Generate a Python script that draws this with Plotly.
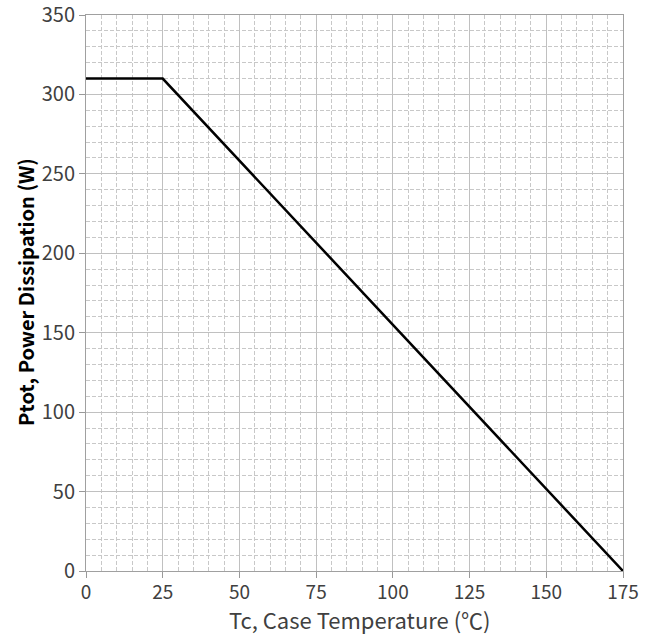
import plotly.graph_objects as go

# Data
temperature_c = [0, 25, 175]
power_w = [310, 310, 0]

x_ticks = [0, 25, 50, 75, 100, 125, 150, 175]
y_ticks = [0, 50, 100, 150, 200, 250, 300, 350]

FONT = "Noto Sans CJK SC"
L, R, T, B = 86, 28, 15, 66
W, H = 651, 637
PW, PH = W - L - R, H - T - B

fig = go.Figure()
fig.add_trace(go.Scatter(
    x=temperature_c, y=power_w, mode="lines",
    line=dict(color="black", width=2.5), showlegend=False, hoverinfo="skip",
))

fig.update_layout(
    width=W, height=H,
    margin=dict(l=L, r=R, t=T, b=B, autoexpand=False),
    paper_bgcolor="white", plot_bgcolor="white",
    font=dict(family=FONT, size=18, color="#404040"),
)

fig.update_xaxes(
    range=[0, 175], tickvals=x_ticks, ticktext=[str(v) for v in x_ticks],
    showline=True, linecolor="#a0a0a0", linewidth=1, mirror=True,
    ticks="outside", ticklen=6, tickcolor="#999999",
    showgrid=True, gridcolor="#c0c0c0", gridwidth=1,
    minor=dict(dtick=5, showgrid=True, gridcolor="#c8c8c8", griddash="4px,2px", gridwidth=1),
    tickfont=dict(family=FONT, size=19, color="#404040"),
    ticklabeloverflow="allow", ticklabelstandoff=-2,
    automargin=False, zeroline=False,
)
fig.update_yaxes(
    range=[0, 350], tickvals=y_ticks, ticktext=[str(v) for v in y_ticks],
    showline=True, linecolor="#a0a0a0", linewidth=1, mirror=True,
    ticks="outside", ticklen=6, tickcolor="#999999",
    showgrid=True, gridcolor="#c0c0c0", gridwidth=1,
    minor=dict(dtick=10, showgrid=True, gridcolor="#c8c8c8", griddash="4px,2px", gridwidth=1),
    tickfont=dict(family=FONT, size=20, color="#404040"),
    ticklabeloverflow="allow",
    automargin=False, zeroline=False,
)

# Axis titles placed as annotations for precise positioning
fig.add_annotation(
    text="Tc, Case Temperature (℃)", xref="paper", yref="paper",
    x=(360 - L) / PW, y=-(619 - (T + PH)) / PH, xanchor="center", yanchor="middle",
    showarrow=False, font=dict(family=FONT, size=22, color="#404040"),
)
fig.add_annotation(
    text="<b>Ptot, Power Dissipation (W)</b>", xref="paper", yref="paper",
    x=(25 - L) / PW, y=1 - (292 - T) / PH, xanchor="center", yanchor="middle",
    textangle=-90, showarrow=False, font=dict(family=FONT, size=20, color="black"),
)

fig.write_html("out.html")
